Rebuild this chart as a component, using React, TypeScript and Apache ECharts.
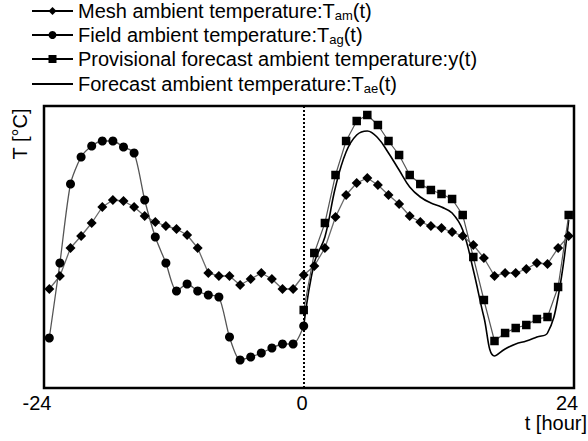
import React, { useEffect, useRef } from 'react';
import * as echarts from 'echarts';

const FONT = 'Liberation Sans, Arial, Helvetica, sans-serif';

const hours = [
  -24, -23, -22, -21, -20, -19, -18, -17, -16, -15, -14, -13, -12, -11, -10, -9, -8, -7, -6, -5, -4, -3, -2, -1,
  0, 1, 2, 3, 4, 5, 6, 7, 8, 9, 10, 11, 12, 13, 14, 15, 16, 17, 18, 19, 20, 21, 22, 23, 24, 25,
];

// t = -24 .. 25
const meshTemp = [
  9.9, 11.2, 14.0, 15.2, 16.5, 18.1, 18.8, 18.7, 18.1, 17.2, 16.6, 16.2, 15.9, 15.3, 14.0, 11.5, 11.2, 11.2, 10.3,
  10.9, 11.5, 10.9, 9.9, 9.9, 11.3, 12.2, 14.0, 17.1, 19.3, 20.5, 21.0, 20.3, 19.3, 18.4, 17.2, 16.6, 16.2, 16.0,
  15.6, 15.2, 14.3, 13.0, 11.2, 11.5, 11.5, 11.9, 12.5, 12.4, 14.0, 15.2,
];

// t = -24 .. 0
const fieldTemp = [
  5.0, 12.5, 20.4, 23.1, 24.2, 24.7, 24.7, 24.1, 23.5, 18.8, 15.1, 12.5, 9.7, 10.4, 9.7, 9.3, 9.1, 5.1, 2.8, 3.1,
  3.5, 4.0, 4.4, 4.4, 6.2,
];

// t = 0 .. 25
const provisionalTemp = [
  7.8, 13.5, 16.5, 21.3, 24.7, 26.7, 27.3, 26.3, 24.7, 23.3, 21.3, 20.4, 19.8, 19.4, 18.9, 17.3, 13.1, 8.8, 4.7, 5.5,
  6.0, 6.3, 6.9, 7.1, 10.1, 17.3,
];

// t = 0 .. 25
const forecastTemp = [
  6.2, 12.5, 15.1, 20.1, 23.6, 25.3, 25.7, 25.0, 23.5, 21.8, 20.1, 19.1, 18.5, 18.1, 17.5, 15.8, 11.8, 7.1, 3.2, 3.9,
  4.4, 4.7, 5.1, 5.5, 9.1, 16.8,
];

const xTickLabels = [-24, 0, 24];

const NAMES = [
  'Mesh ambient temperature:Tam(t)',
  'Field ambient temperature:Tag(t)',
  'Provisional forecast ambient temperature:y(t)',
  'Forecast ambient temperature:Tae(t)',
];
const RICH_NAMES: Record<string, string> = {
  [NAMES[0]]: '{a|Mesh ambient temperature:T}{s|am}{a|(t)}',
  [NAMES[1]]: '{a|Field ambient temperature:T}{s|ag}{a|(t)}',
  [NAMES[2]]: '{a|Provisional forecast ambient temperature:y(t)}',
  [NAMES[3]]: '{a|Forecast ambient temperature:T}{s|ae}{a|(t)}',
};

const zeroIdx = hours.indexOf(0);
const pastHours = hours.slice(0, zeroIdx + 1);
const futureHours = hours.slice(zeroIdx);

export default function App() {
  const ref = useRef<HTMLDivElement>(null);
  useEffect(() => {
    document.body.style.margin = '0';
    const chart = echarts.init(ref.current!, null, { renderer: 'svg' });
    const legendTops = [1, 25, 49, 74];
    const option: any = {
      animation: false,
      backgroundColor: '#ffffff',
      textStyle: { fontFamily: FONT },
      legend: NAMES.map((n, i) => ({
        data: [n],
        left: 31,
        top: legendTops[i],
        padding: 0,
        itemWidth: 41,
        itemHeight: 10,
        selectedMode: false,
        formatter: (name: string) => RICH_NAMES[name],
        lineStyle: { color: '#000', width: 2 },
        itemStyle: i === 3 ? { color: '#000', borderWidth: 0, opacity: 0 } : { color: '#000', borderWidth: 0 },
        textStyle: {
          fontFamily: FONT,
          fontSize: 20,
          color: '#000',
          rich: {
            a: { fontFamily: FONT, fontSize: 20, lineHeight: 22, color: '#000' },
            s: { fontFamily: FONT, fontSize: 13, lineHeight: 10, verticalAlign: 'bottom', color: '#000' },
          },
        },
      })),
      grid: [
        { left: 44, right: 14, top: 106, bottom: 53, show: true, borderColor: '#000', borderWidth: 2.5 },
        { left: 37, right: 21, top: 106, bottom: 53 },
      ],
      xAxis: [
        {
          gridIndex: 0,
          type: 'value',
          min: -24.5,
          max: 25.5,
          axisLine: { show: false },
          axisTick: { show: false },
          axisLabel: { show: false },
          splitLine: { show: false },
        },
        {
          gridIndex: 1,
          type: 'value',
          min: xTickLabels[0],
          max: xTickLabels[2],
          interval: 24,
          axisLine: { show: false },
          axisTick: { show: false },
          splitLine: { show: false },
          axisLabel: { fontFamily: FONT, fontSize: 20, color: '#000', margin: 5, showMinLabel: true, showMaxLabel: true },
        },
      ],
      yAxis: [
        { gridIndex: 0, type: 'value', min: 0, max: 28.2, show: false },
        { gridIndex: 1, type: 'value', min: 0, max: 1, show: false },
      ],
      graphic: [
        {
          type: 'text',
          x: 20,
          y: 134,
          rotation: Math.PI / 2,
          style: { text: 'T [°C]', font: `20px ${FONT}`, fill: '#000', align: 'center', verticalAlign: 'middle' },
        },
        {
          type: 'text',
          right: 1,
          top: 413,
          style: { text: 't [hour]', font: `20px ${FONT}`, fill: '#000' },
        },
      ],
      series: [
        {
          name: NAMES[0],
          type: 'line',
          xAxisIndex: 0,
          yAxisIndex: 0,
          data: hours.map((h, i) => [h, meshTemp[i]]),
          symbol: 'diamond',
          symbolSize: 10,
          itemStyle: { color: '#000' },
          lineStyle: { color: '#6a6a6a', width: 1.3 },
          z: 3,
          markLine: {
            silent: true,
            symbol: ['none', 'none'],
            label: { show: false },
            lineStyle: { type: 'dotted', color: '#000', width: 2 },
            data: [{ xAxis: 0 }],
          },
        },
        {
          name: NAMES[1],
          type: 'line',
          data: pastHours.map((h, i) => [h, fieldTemp[i]]),
          symbol: 'circle',
          symbolSize: 9,
          smooth: 0.25,
          itemStyle: { color: '#000' },
          lineStyle: { color: '#555', width: 1.3 },
          z: 3,
        },
        {
          name: NAMES[2],
          type: 'line',
          data: futureHours.map((h, i) => [h, provisionalTemp[i]]),
          symbol: 'rect',
          symbolSize: 8.5,
          itemStyle: { color: '#000' },
          lineStyle: { color: '#555', width: 1.2 },
          z: 3,
        },
        {
          name: NAMES[3],
          type: 'line',
          data: futureHours.map((h, i) => [h, forecastTemp[i]]),
          symbol: 'none',
          smooth: 0.4,
          itemStyle: { color: '#000' },
          lineStyle: { color: '#000', width: 1.6 },
          z: 2,
        },
      ],
    };
    chart.setOption(option);
    return () => chart.dispose();
  }, []);
  return (
    <div
      ref={ref}
      style={{ position: 'fixed', left: 0, top: 0, width: 588, height: 441, background: '#fff' }}
    />
  );
}
